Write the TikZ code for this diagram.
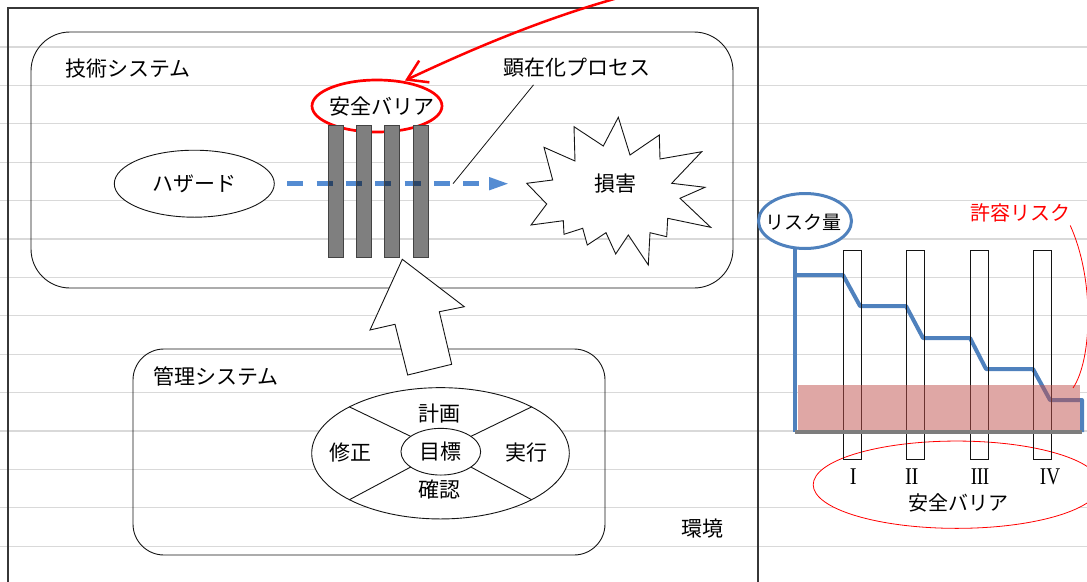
\documentclass[tikz,border=0pt]{standalone}
\usepackage{fontspec}
\setmainfont{Noto Sans CJK JP}
\newfontfamily\romanf{Liberation Serif}
\usetikzlibrary{shapes.geometric,arrows.meta}
\definecolor{gridc}{RGB}{217,217,217}
\definecolor{flowblue}{RGB}{85,140,210}
\definecolor{chartblue}{RGB}{79,129,189}
\definecolor{pinkc}{RGB}{192,80,77}
\definecolor{linec}{RGB}{20,20,20}
\begin{document}
\begin{tikzpicture}[x=1pt,y=-1pt,
  gline/.style={draw=gridc,line width=1.2pt},
  outline/.style={draw=linec,line width=0.9pt},
  lbl/.style={inner sep=0pt,font=\fontsize{21}{24}\selectfont},
  clbl/.style={inner sep=0pt,font=\fontsize{20}{24}\selectfont},
  ell/.style={ellipse,outline,fill=white,inner sep=0pt,outer sep=0pt},
  sysbox/.style={rectangle,outline,inner sep=0pt,outer sep=0pt},
  barbox/.style={rectangle,draw=linec!80,line width=0.8pt,fill=black,fill opacity=0.5,minimum width=15pt,minimum height=132pt,inner sep=0pt},
  flow/.style={draw=flowblue,line width=4.5pt,dash pattern=on 16pt off 13.3pt,-{Triangle[length=20pt,width=12pt]}},
  riskline/.style={draw=chartblue,line width=4pt,line join=round},
  crect/.style={rectangle,draw=linec,line width=0.9pt,minimum width=18pt,minimum height=209pt,inner sep=0pt},
  roman/.style={inner sep=0pt,font=\romanf\fontsize{24}{26}\selectfont}
]
\useasboundingbox (0,0) rectangle (1087,581);
% background grid
\foreach \k in {0,...,13} \draw[gline] (0,47+38.4*\k) -- (1087,47+38.4*\k);
% environment frame
\draw[draw=linec!85,line width=1.1pt] (8,590) -- (8,8) -- (758,8) -- (758,590);
% technical system
\node[sysbox,rounded corners=39pt,minimum width=702pt,minimum height=256pt] (tech) at (382,160) {};
\node[lbl,anchor=west] (techlbl) at (65,69) {技術システム};
% hazard
\node[ell,minimum width=160pt,minimum height=67pt] (haz) at (194.3,183.7) {};
\node[lbl] (hazlbl) at (haz) {ハザード};
% safety barrier label
\node[ell,draw=red,line width=2.7pt,minimum width=130pt,minimum height=52pt] (sb) at (377,106) {};
\node[lbl] (sblbl) at (382,107) {安全バリア};
% white underlay of bars
\foreach \x in {328,356,384,413} \fill[white] (\x,125) rectangle (\x+15,257);
% flow arrow
\coordinate (arrend) at (509,183.7);
\draw[flow] ([xshift=13pt]haz.east) -- (arrend);
% bars
\node[barbox] (b1) at (335.5,191) {};
\node[barbox] (b2) at (363.5,191) {};
\node[barbox] (b3) at (391.5,191) {};
\node[barbox] (b4) at (420.5,191) {};
% damage burst
\draw[outline,fill=white] (526.7,183.3) -- (546.7,204) -- (531,225) -- (563.3,220.7) -- (564,234.3) -- (582.7,228.3) -- (587.3,245) -- (606,232.7) -- (615.7,254) -- (628.3,235) -- (648.3,265) -- (650,232.7) -- (666.7,236.7) -- (667.7,218.3) -- (710.7,227.3) -- (680,198.3) -- (705,187.3) -- (671.7,183.3) -- (701.7,151.7) -- (660,159) -- (659.3,135) -- (630,155) -- (618.3,117.3) -- (603.3,146) -- (574,126.7) -- (575,161) -- (544,147.3) -- (552.7,180) -- cycle;
\node[lbl] (dmg) at (615,183.3) {損害};
% manifestation process
\node[lbl] (proc) at (576.5,68) {顕在化プロセス};
\coordinate (procpt) at (453,183.7);
\draw[outline,line width=0.8pt] ([xshift=-43pt,yshift=-7pt]proc.south) -- (procpt);
% red curved arrow
\coordinate (redstart) at (640,-8);
\draw[red,line width=2.5pt,-{Straight Barb[length=19pt,width=24pt]}] (redstart) .. controls (550,15) and (470,50) .. ([yshift=2pt]sb.40);
% management system
\node[sysbox,rounded corners=31pt,minimum width=472pt,minimum height=206pt] (mgmt) at (369,452) {};
\node[lbl,anchor=west] (mgmtlbl) at (153,376) {管理システム};
% hollow arrow
\draw[outline,fill=white] (402.3,259.3) -- (464.3,306.7) -- (439.3,311.7) -- (451.7,364.3) -- (407.7,375) -- (395,324.3) -- (370,330) -- cycle;
% PDCA
\node[ell,minimum width=257.6pt,minimum height=131.3pt] (pdca) at (440.5,453.3) {};
\node[ell,minimum width=79.7pt,minimum height=46.7pt] (goal) at (440.8,451.7) {};
\foreach \a in {27,153,207,333} \draw[outline] (pdca.\a) -- (goal.\a);
\node[lbl] (plan) at (439.3,414) {計画};
\node[lbl] (doact) at (526,452.7) {実行};
\node[lbl] (check) at (439.3,490) {確認};
\node[lbl] (act) at (350.7,452.7) {修正};
\node[lbl] (goallbl) at (440,452) {目標};
\node[lbl] (env) at (702.7,528.3) {環境};
% ---------- chart ----------
\node[ell,draw=red,line width=0.8pt,minimum width=287pt,minimum height=87.3pt] (sbell) at (956.7,484.7) {};
\node[ell,draw=chartblue,line width=3pt,minimum width=93pt,minimum height=55pt] (rq) at (805,221) {};
\node[inner sep=0pt,font=\fontsize{19}{22}\selectfont] (rqlbl) at (803,222) {リスク量};
\fill[white] (798,385) rectangle (1080,432);
\draw[riskline] (rq.south -| 795,0) -- (795,432);
\draw[riskline] (795,275) -- (843,275) -- (860,306) -- (906,306) -- (923,338) -- (970,338) -- (986,369) -- (1033,369) -- (1050,400) -- (1082,400) -- (1082,432);
\node[crect] (r1) at (852,354.5) {};
\node[crect] (r2) at (915,354.5) {};
\node[crect] (r3) at (979.5,354.5) {};
\node[crect] (r4) at (1042,354.5) {};
\fill[pinkc,opacity=0.5] (798,385) rectangle (1080,432);
\draw[draw={rgb,255:red,125;green,125;blue,125},line width=4pt] (795,432) -- (1082,432);
\node[roman] (n1) at (853.3,477) {\scalebox{0.85}[1]{I}};
\node[roman] (n2) at (911.7,477) {\scalebox{0.85}[1]{I\kern-0.5ptI}};
\node[roman] (n3) at (980,477) {\scalebox{0.8}[1]{I\kern-0.5ptI\kern-0.5ptI}};
\node[roman] (n4) at (1050,477) {\scalebox{0.8}[1]{IV}};
\node[clbl] (sbtxt) at (958.3,503.3) {安全バリア};
\node[clbl,text=red] (tol) at (1020,213) {許容リスク};
\coordinate (tolend) at (1073,388);
\draw[red,line width=0.8pt] ([yshift=-3pt]tol.south east) .. controls (1095,280) and (1092,360) .. (tolend);
\end{tikzpicture}
\end{document}
